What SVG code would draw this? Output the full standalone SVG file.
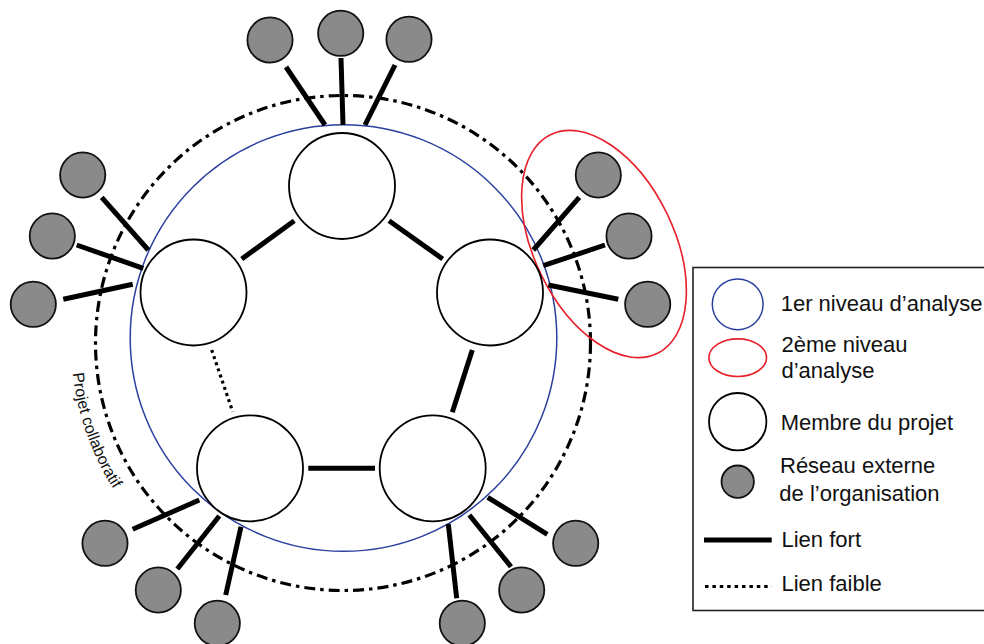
<svg xmlns="http://www.w3.org/2000/svg" width="984" height="644" viewBox="0 0 984 644">
<style>
.member{fill:#fff;stroke:#000;stroke-width:1.8}
.ext{fill:#8a8a8a;stroke:#111;stroke-width:1.8}
.strong{stroke:#000;stroke-width:5;stroke-linecap:butt;fill:none}
.weak{stroke:#000;stroke-width:3.2;stroke-dasharray:3 3.5;fill:none}
.lvl1{fill:none;stroke:#2b3f9e;stroke-width:1.5}
.lvl2{fill:none;stroke:#e8202a;stroke-width:1.6}
.proj{fill:none;stroke:#000;stroke-width:3.2;stroke-dasharray:11 5 3.5 5}
.lbl{font-family:"Liberation Sans",Arial,sans-serif;font-size:22px;fill:#111}
.plbl{font-family:"Liberation Sans",Arial,sans-serif;font-size:16px;fill:#111}
</style>
<defs>
<path id="arcP" d="M 72.5 371.4 A 272 272 0 0 0 207 578.6"/>
</defs>
<rect width="984" height="644" fill="#fff"/>

<g id="projet-collaboratif">
<circle class="proj" cx="343" cy="343" r="247.5"/>
<text class="plbl"><textPath href="#arcP" startOffset="2">Projet collaboratif</textPath></text>
</g>
<g id="niveau1">
<circle class="lvl1" cx="343.5" cy="338" r="213.3"/>
</g>
<g id="niveau2">
<ellipse class="lvl2" cx="604" cy="244" rx="121.7" ry="69.9" transform="rotate(64.1 604 244)"/>
</g>

<g id="connectors">
<line class="strong" x1="241.7" y1="259" x2="294.3" y2="220.7"/>
<line class="strong" x1="389" y1="220.7" x2="442.7" y2="259"/>
<line class="strong" x1="472.3" y1="350" x2="452.3" y2="412.3"/>
<line class="strong" x1="308.3" y1="468.3" x2="375" y2="468.3"/>
<line class="weak" x1="211.7" y1="350" x2="232.7" y2="411.7"/>
<line class="strong" x1="286" y1="67" x2="325" y2="125"/>
<line class="strong" x1="341" y1="58" x2="343" y2="125"/>
<line class="strong" x1="395" y1="65" x2="365" y2="125"/>
<line class="strong" x1="101.7" y1="197.3" x2="148.3" y2="250"/>
<line class="strong" x1="76.7" y1="245" x2="143.3" y2="268.3"/>
<line class="strong" x1="63.3" y1="299.3" x2="132.7" y2="284.3"/>
<line class="strong" x1="579.3" y1="197.3" x2="533.3" y2="250"/>
<line class="strong" x1="605" y1="245" x2="543.3" y2="265.7"/>
<line class="strong" x1="618.3" y1="299.3" x2="548.3" y2="285"/>
<line class="strong" x1="132.7" y1="529.3" x2="199.3" y2="500"/>
<line class="strong" x1="177.3" y1="569" x2="219.3" y2="516"/>
<line class="strong" x1="225.7" y1="595" x2="241" y2="526.7"/>
<line class="strong" x1="547.3" y1="534.3" x2="487.7" y2="497.3"/>
<line class="strong" x1="511" y1="566.7" x2="469.3" y2="515"/>
<line class="strong" x1="456.7" y1="598.3" x2="448.3" y2="524"/>
</g>

<g id="membre-haut"><circle class="member" cx="342" cy="186" r="53"/></g>
<g id="membre-gauche"><circle class="member" cx="193.5" cy="292.5" r="53"/></g>
<g id="membre-droite"><circle class="member" cx="490" cy="292.5" r="53"/></g>
<g id="membre-bas-gauche"><circle class="member" cx="250" cy="468.3" r="53"/></g>
<g id="membre-bas-droite"><circle class="member" cx="432.7" cy="468.3" r="53"/></g>

<g id="ext-haut-1"><circle class="ext" cx="270" cy="40" r="22.6"/></g>
<g id="ext-haut-2"><circle class="ext" cx="340.7" cy="33.3" r="22.6"/></g>
<g id="ext-haut-3"><circle class="ext" cx="409" cy="39.3" r="22.6"/></g>
<g id="ext-gauche-1"><circle class="ext" cx="82.7" cy="175" r="22.6"/></g>
<g id="ext-gauche-2"><circle class="ext" cx="52.3" cy="236" r="22.6"/></g>
<g id="ext-gauche-3"><circle class="ext" cx="33.3" cy="304.3" r="22.6"/></g>
<g id="ext-droite-1"><circle class="ext" cx="598.3" cy="175" r="22.6"/></g>
<g id="ext-droite-2"><circle class="ext" cx="629" cy="236" r="22.6"/></g>
<g id="ext-droite-3"><circle class="ext" cx="647.7" cy="304.3" r="22.6"/></g>
<g id="ext-bas-gauche-1"><circle class="ext" cx="105" cy="543.3" r="22.6"/></g>
<g id="ext-bas-gauche-2"><circle class="ext" cx="158.3" cy="590" r="22.6"/></g>
<g id="ext-bas-gauche-3"><circle class="ext" cx="217.3" cy="623.3" r="22.6"/></g>
<g id="ext-bas-droite-1"><circle class="ext" cx="575.7" cy="543.3" r="22.6"/></g>
<g id="ext-bas-droite-2"><circle class="ext" cx="521.7" cy="590" r="22.6"/></g>
<g id="ext-bas-droite-3"><circle class="ext" cx="462.3" cy="623.3" r="22.6"/></g>

<g id="legende">
<rect x="693" y="267.5" width="320" height="343" fill="#fff" stroke="#222" stroke-width="1.6"/>
<circle class="lvl1" cx="737.7" cy="304.3" r="25.4"/>
<text class="lbl" x="780.7" y="310.7">1er niveau d’analyse</text>
<ellipse class="lvl2" cx="737.7" cy="357.7" rx="28.8" ry="18.8"/>
<text class="lbl" x="781.5" y="351.7">2ème niveau</text>
<text class="lbl" x="781.5" y="378.3">d’analyse</text>
<circle class="member" cx="737.7" cy="421.7" r="28.7"/>
<text class="lbl" x="780.7" y="430">Membre du projet</text>
<circle class="ext" cx="737.7" cy="481.7" r="16.2"/>
<text class="lbl" x="780" y="473.3">Réseau externe</text>
<text class="lbl" x="779.3" y="500.7">de l’organisation</text>
<line class="strong" x1="704" y1="540" x2="771.7" y2="540"/>
<text class="lbl" x="781.5" y="547.3">Lien fort</text>
<line class="weak" x1="705" y1="586.5" x2="771.7" y2="586.5" style="stroke-dasharray:3.5 3.9"/>
<text class="lbl" x="781.5" y="591">Lien faible</text>
</g>
</svg>
